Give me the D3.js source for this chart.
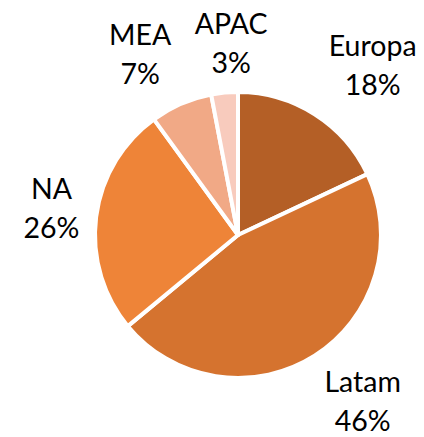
<!DOCTYPE html>
<html>
<head>
<meta charset="utf-8">
<script src="https://cdn.jsdelivr.net/npm/d3@7"></script>
<style>
  body { margin: 0; background: #fff; }
  text { font-family: Lato, "Open Sans", sans-serif; font-size: 28.5px; fill: #000; }
</style>
</head>
<body>
<script>
// chart data
var regions = ["Europa", "Latam", "NA", "MEA", "APAC"];
var shares = [18, 46, 26, 7, 3];
var sliceColors = ["#B45F26", "#D5732F", "#EE8438", "#F1A986", "#F8CBBD"];

var width = 424,
    height = 437;

var cx = 238, cy = 235, radius = 143;

// small hand nudges so labels sit where the original has them
var labelNudge = [[24, 4], [14, -8], [11, -2], [-17, 6], [12, 8]];

var svg = d3.select("body").append("svg")
    .attr("width", width)
    .attr("height", height);

var pie = d3.pie().sort(null).value(function(d) { return d; });
var arcs = pie(shares);

var arc = d3.arc().innerRadius(0).outerRadius(radius);

var g = svg.append("g").attr("transform", "translate(" + cx + "," + cy + ")");

g.selectAll("path")
  .data(arcs)
  .enter()
  .append("path")
  .attr("d", arc)
  .attr("fill", function(d, i) { return sliceColors[i]; })
  .attr("stroke", "#fff")
  .attr("stroke-width", 4)
  .attr("stroke-linejoin", "round");

// labels: place a box just outside the rim along the mid angle
var labels = g.selectAll("g.lbl")
  .data(arcs)
  .enter()
  .append("g")
  .attr("class", "lbl");

labels.each(function(d, i) {
  var sel = d3.select(this);
  var t1 = sel.append("text").attr("text-anchor", "middle").text(regions[i]);
  var t2 = sel.append("text").attr("text-anchor", "middle").text(shares[i] + "%");
  var hw = Math.max(t1.node().getComputedTextLength(), t2.node().getComputedTextLength()) / 2;
  var hh = 30;
  var a = (d.startAngle + d.endAngle) / 2;
  var s = Math.abs(Math.sin(a)) || 1e-6, c = Math.abs(Math.cos(a)) || 1e-6;
  var t = Math.min(hw / s, hh / c);
  var dist = radius + 28 + t;
  var x = Math.sin(a) * dist + labelNudge[i][0];
  var y = -Math.cos(a) * dist + labelNudge[i][1];
  t1.attr("x", x).attr("y", y - 9);
  t2.attr("x", x).attr("y", y + 30);
});
</script>
</body>
</html>
